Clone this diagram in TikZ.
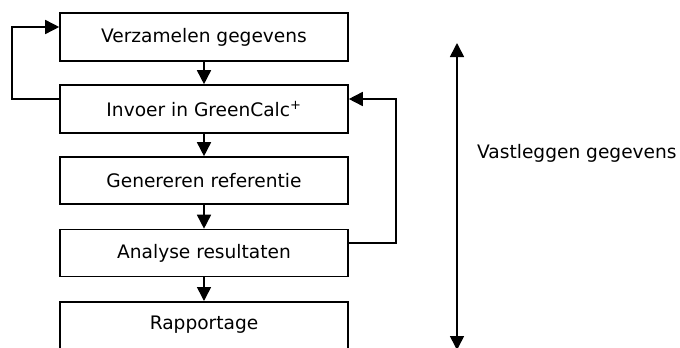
\documentclass[tikz,border=0pt]{standalone}
\usepackage{fontspec}
\setmainfont{DejaVu Sans}
\usetikzlibrary{arrows.meta}
\begin{document}
\begin{tikzpicture}[x=1pt,y=-1pt,
  stepbox/.style={draw,line width=1.6pt,minimum width=288pt,inner sep=0pt,font=\fontsize{18.6}{21}\selectfont},
  conn/.style={line width=1.6pt,-{Triangle[length=14pt,width=14pt]}},
  lbl/.style={font=\fontsize{18.6}{21}\selectfont,inner sep=0pt}]
\useasboundingbox (0,0) rectangle (680,348);
\clip (0,0) rectangle (680,348);
\node[stepbox,minimum height=48pt] (b1) at (204,37) {Verzamelen gegevens};
\node[stepbox,minimum height=48pt] (b2) at (204,109) {Invoer in GreenCalc\textsuperscript{+}};
\node[stepbox,minimum height=47pt] (b3) at (204,180.5) {Genereren referentie};
\node[stepbox,minimum height=47pt] (b4) at (204,253) {Analyse resultaten};
\node[stepbox,minimum height=52pt,anchor=north] (b5) at (204,301) {};
\node[lbl] (t5) at (204,325) {Rapportage};
\draw[conn] (b1) -- (b2);
\draw[conn] (b2) -- (b3);
\draw[conn] (b3) -- (b4);
\draw[conn] (b4) -- (b5);
\coordinate (l1) at (12,99);
\coordinate (l2) at (12,27);
\draw[conn] (b2.west |- l1) -- (l1) -- (l2) -- (b1.west |- l2);
\coordinate (r1) at (396,243);
\coordinate (r2) at (396,99);
\draw[conn] (b4.east |- r1) -- (r1) -- (r2) -- (b2.east |- r2);
\coordinate (vt) at (457,43);
\coordinate (vb) at (457,350);
\draw[line width=1.6pt,{Triangle[length=14pt,width=14pt]}-{Triangle[length=14pt,width=14pt]}] (vt) -- (vb);
\node[lbl,anchor=west] (vl) at (477,153) {Vastleggen gegevens};
\end{tikzpicture}
\end{document}
